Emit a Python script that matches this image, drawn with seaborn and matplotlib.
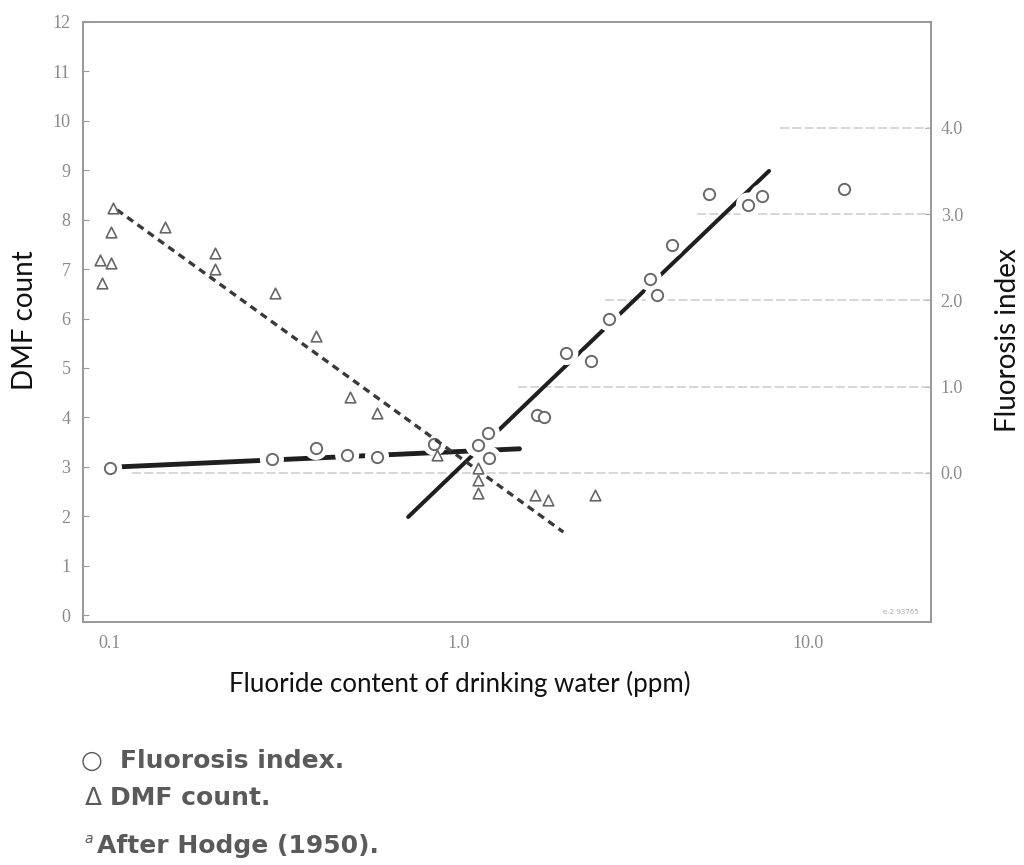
import matplotlib
matplotlib.use("Agg")
import matplotlib.pyplot as plt
import seaborn as sns

# ---------------- data ----------------
# DMF count (triangles, left axis)
dmf_x = [0.102, 0.101, 0.0936, 0.101, 0.0948, 0.144, 0.2, 0.2, 0.297, 0.389,
         0.487, 0.582, 0.865, 1.13, 1.13, 1.13, 1.65, 1.80, 2.45]
dmf_y = [8.24, 7.75, 7.19, 7.13, 6.72, 7.85, 7.33, 7.0, 6.52, 5.65,
         4.41, 4.09, 3.24, 2.98, 2.73, 2.47, 2.43, 2.33, 2.43]

# Fluorosis index (circles, right axis)
fl_x = [0.1, 0.291, 0.389, 0.478, 0.582, 0.85, 1.13, 1.21, 1.22, 1.67, 1.75,
        2.03, 2.39, 2.69, 3.52, 3.69, 4.07, 5.2, 6.73, 7.38, 12.7]
fl_y = [0.06, 0.16, 0.29, 0.21, 0.19, 0.34, 0.32, 0.46, 0.17, 0.67, 0.65,
        1.39, 1.30, 1.78, 2.25, 2.06, 2.64, 3.23, 3.11, 3.21, 3.29]

# fitted lines (end points)
dmf_fit_x = [0.1047, 1.99]
dmf_fit_y = [8.2, 1.68]
fl_low_x = [0.105, 1.49]
fl_low_y = [0.07, 0.28]
fl_high_x = [0.715, 7.73]
fl_high_y = [-0.51, 3.50]

# partial reference lines on the fluorosis scale
ref_levels = [0.0, 1.0, 2.0, 3.0, 4.0]
ref_starts = [0.116, 1.48, 2.62, 4.8, 8.3]

x_ticks = [0.1, 1.0, 10.0]
x_ticklabels = ["0.1", "1.0", "10.0"]
dmf_ticks = list(range(0, 13))
fl_ticks = [0.0, 1.0, 2.0, 3.0, 4.0]
fl_ticklabels = ["0.0", "1.0", "2.0", "3.0", "4.0"]

# ---------------- style ----------------
sns.set_style("white")
plt.rcParams["font.family"] = ["DejaVu Sans"]

W, H = 1024, 865
fig = plt.figure(figsize=(W / 100, H / 100), dpi=100)
L, R, T, B = 83, 931, 22, 622
ax = fig.add_axes([L / W, 1 - B / H, (R - L) / W, (B - T) / H])
ax2 = ax.twinx()
ax.set_zorder(ax2.get_zorder() + 1)
ax.patch.set_visible(False)

xmin, xmax = 0.0837, 22.5
for a in (ax, ax2):
    a.set_xscale("log")
    a.set_xlim(xmin, xmax)
ax.set_ylim(-0.14, 12.0)
ax2.set_ylim(-1.727, 5.226)

spine_col = "#9a9a9a"
for a in (ax, ax2):
    for s in a.spines.values():
        s.set_color(spine_col)
        s.set_linewidth(1.3)

# reference lines (fluorosis scale)
for lev, st in zip(ref_levels, ref_starts):
    ax2.hlines(lev, st, xmax, color="#cccccc", lw=1.1,
               linestyle=(0, (6, 2)), zorder=1)

# fluorosis lines
line_col = "#1f1f1f"
sns.lineplot(x=fl_low_x, y=fl_low_y, ax=ax2, color=line_col, lw=3.5, zorder=2)
sns.lineplot(x=fl_high_x, y=fl_high_y, ax=ax2, color=line_col, lw=2.9, zorder=2)
# white halos around circles (line breaks)
sns.scatterplot(x=fl_x, y=fl_y, ax=ax2, s=300, color="white",
                edgecolor="none", linewidth=0, zorder=3)
sns.scatterplot(x=fl_x, y=fl_y, ax=ax2, s=66, marker="o", facecolor="white",
                edgecolor="#6a6a6a", linewidth=1.4, zorder=4)

# DMF line and triangles
sns.lineplot(x=dmf_fit_x, y=dmf_fit_y, ax=ax, color="#3a3a3a", lw=2.4,
             linestyle=(0, (2.2, 1.6)), zorder=2)
sns.scatterplot(x=dmf_x, y=dmf_y, ax=ax, s=58, marker="^", facecolor="white",
                edgecolor="#666666", linewidth=1.2, zorder=4)

# ticks
tick_font = dict(family="Liberation Serif", size=13, color="#8a8a8a")
ax.set_xticks(x_ticks)
ax.set_xticklabels(x_ticklabels, **tick_font)
ax.xaxis.set_minor_locator(matplotlib.ticker.NullLocator())
ax2.xaxis.set_minor_locator(matplotlib.ticker.NullLocator())
ax.set_yticks(dmf_ticks)
ax.set_yticklabels([str(t) for t in dmf_ticks], **tick_font)
ax2.set_yticks(fl_ticks)
ax2.set_yticklabels(fl_ticklabels, **tick_font)
ax.tick_params(axis="x", direction="in", length=4, color=spine_col, pad=9)
ax.tick_params(axis="y", direction="in", length=4, color=spine_col, pad=9)
ax2.tick_params(axis="y", direction="in", length=4, color=spine_col, pad=7)
ax.set_xlabel("")
ax.set_ylabel("")
ax2.set_ylabel("")

ax.text(0.985, 0.012, "e-2 93765", transform=ax.transAxes, ha="right",
        va="bottom", fontsize=5, color="#aaaaaa")

# axis titles
lab_font = dict(family="Lato", color="#111111")
fig.text(460 / W, 1 - 684 / H, "Fluoride content of drinking water (ppm)",
         ha="center", va="center", fontsize=18.6, **lab_font)
fig.text(25 / W, 1 - 320 / H, "DMF count", rotation=90, ha="center",
         va="center", fontsize=20, **lab_font)
fig.text(1008 / W, 1 - 340 / H, "Fluorosis index", rotation=90, ha="center",
         va="center", fontsize=20, **lab_font)

# notes below the chart
note_col = "#5a5a5a"
fig.text(92 / W, 1 - 768 / H, "\u25cb", ha="center", va="baseline",
         fontsize=18, color=note_col)
fig.text(120 / W, 1 - 768 / H, "Fluorosis index.", ha="left", va="baseline",
         fontsize=18, fontweight="bold", color=note_col)
fig.text(93 / W, 1 - 805 / H, "\u0394", ha="center", va="baseline",
         fontsize=18, color=note_col)
fig.text(110 / W, 1 - 805 / H, "DMF count.", ha="left", va="baseline",
         fontsize=18, fontweight="bold", color=note_col)
fig.text(89 / W, 1 - 843 / H, "a", ha="center", va="baseline",
         fontsize=10, style="italic", color=note_col)
fig.text(97 / W, 1 - 853 / H, "After Hodge (1950).", ha="left",
         va="baseline", fontsize=18, fontweight="bold", color=note_col)

fig.savefig("out.png", dpi=100)
